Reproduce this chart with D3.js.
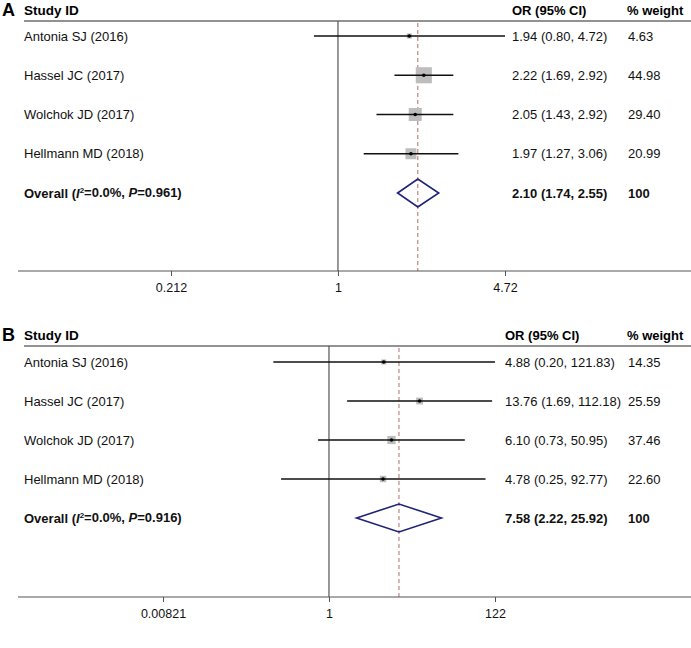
<!DOCTYPE html>
<html><head><meta charset="utf-8">
<script src="https://cdn.jsdelivr.net/npm/d3@7"></script>
<style>body{margin:0;background:#fff}svg{display:block}text{font-family:"Liberation Sans",Arial,sans-serif}</style>
</head><body><svg id="c" width="691" height="648"></svg>
<script>
const studies = ["Antonia SJ (2016)", "Hassel JC (2017)", "Wolchok JD (2017)", "Hellmann MD (2018)"];
const orA = [1.94, 2.22, 2.05, 1.97];
const lowA = [0.80, 1.69, 1.43, 1.27];
const highA = [4.72, 2.92, 2.92, 3.06];
const weightA = [4.63, 44.98, 29.40, 20.99];
const overallA = [2.10, 1.74, 2.55];
const statsA = ["0.0%", "0.961"];
const ticksA = [0.212, 1, 4.72];

const orB = [4.88, 13.76, 6.10, 4.78];
const lowB = [0.20, 1.69, 0.73, 0.25];
const highB = [121.83, 112.18, 50.95, 92.77];
const weightB = [14.35, 25.59, 37.46, 22.60];
const overallB = [7.58, 2.22, 25.92];
const statsB = ["0.0%", "0.916"];
const ticksB = [0.00821, 1, 122];

const svg = d3.select("#c");
const f2 = d3.format(".2f");

function panel(cfg) {
  const g = svg.append("g");
  const x = d3.scaleLog().domain([cfg.ticks[0], cfg.ticks[2]]).range(cfg.xr);
  const y = d3.scalePoint().domain(d3.range(5)).range(cfg.yr);
  const top = cfg.hy, bottom = cfg.ay;

  g.append("text").attr("x", 2).attr("y", top - 5).attr("font-size", 18).attr("font-weight", "bold").text(cfg.letter);
  g.append("text").attr("x", 24).attr("y", top - 6).attr("font-size", 13.5).attr("font-weight", "bold").text("Study ID");
  g.append("text").attr("x", cfg.orx).attr("y", top - 6).attr("font-size", 13).attr("font-weight", "bold").text("OR (95% CI)");
  g.append("text").attr("x", 627).attr("y", top - 6).attr("font-size", 13).attr("font-weight", "bold").text("% weight");
  g.append("line").attr("x1", 24).attr("x2", 691).attr("y1", top).attr("y2", top).attr("stroke", "#6e6e6e").attr("stroke-width", 1.3);

  g.append("line").attr("x1", x(1)).attr("x2", x(1)).attr("y1", top).attr("y2", bottom).attr("stroke", "#555").attr("stroke-width", 1.2);
  g.append("line").attr("x1", x(cfg.overall[0])).attr("x2", x(cfg.overall[0])).attr("y1", top + 2).attr("y2", bottom)
    .attr("stroke", "#b86a6a").attr("stroke-width", 1).attr("stroke-dasharray", "4,3");

  const axis = d3.axisBottom(x).tickValues(cfg.ticks).tickFormat(d => String(d)).tickSize(5).tickSizeOuter(0);
  const ag = g.append("g").attr("transform", `translate(0,${bottom})`).call(axis);
  ag.select(".domain").remove();
  ag.selectAll(".tick line").attr("stroke", "#555");
  ag.selectAll(".tick text").attr("font-size", 12.5).attr("fill", "#111").attr("dy", "1.05em").attr("font-family", "Liberation Sans, Arial, sans-serif");
  g.append("line").attr("x1", 18).attr("x2", 691).attr("y1", bottom).attr("y2", bottom).attr("stroke", "#555").attr("stroke-width", 1.2);

  studies.forEach((s, i) => {
    const yy = y(i);
    g.append("text").attr("x", 24).attr("y", yy).attr("dy", "0.35em").attr("font-size", 13).attr("fill", "#111").text(s);
    const side = cfg.boxK * Math.sqrt(cfg.w[i]);
    g.append("rect").attr("x", x(cfg.or[i]) - side / 2).attr("y", yy - side / 2).attr("width", side).attr("height", side).attr("fill", "#bdbdbd");
    g.append("line").attr("x1", x(cfg.lo[i])).attr("x2", x(cfg.hi[i])).attr("y1", yy).attr("y2", yy).attr("stroke", "#111").attr("stroke-width", 1.5);
    g.append("circle").attr("cx", x(cfg.or[i])).attr("cy", yy).attr("r", 1.8).attr("fill", "#000");
    g.append("text").attr("x", cfg.orx).attr("y", yy).attr("dy", "0.35em").attr("font-size", 13).attr("fill", "#111")
      .text(`${f2(cfg.or[i])} (${f2(cfg.lo[i])}, ${f2(cfg.hi[i])})`);
    g.append("text").attr("x", 628).attr("y", yy).attr("dy", "0.35em").attr("font-size", 13).attr("fill", "#111").text(f2(cfg.w[i]));
  });

  const yo = y(4);
  const t = g.append("text").attr("x", 24).attr("y", yo).attr("dy", "0.35em").attr("font-size", 13).attr("font-weight", "bold").attr("fill", "#111");
  t.append("tspan").text("Overall (");
  t.append("tspan").attr("font-style", "italic").text("I");
  t.append("tspan").attr("font-size", 8).attr("dy", "-0.6em").text("2");
  t.append("tspan").attr("dy", "0.35em").text(`=${cfg.stats[0]}, `);
  t.append("tspan").attr("font-style", "italic").text("P");
  t.append("tspan").text(`=${cfg.stats[1]})`);
  const [o, lo, hi] = cfg.overall;
  const dh = 14;
  g.append("path").attr("d", `M${x(lo)},${yo} L${x(o)},${yo - dh} L${x(hi)},${yo} L${x(o)},${yo + dh} Z`)
    .attr("fill", "none").attr("stroke", "#1f2478").attr("stroke-width", 1.6);
  g.append("text").attr("x", cfg.orx).attr("y", yo).attr("dy", "0.35em").attr("font-size", 13).attr("font-weight", "bold").attr("fill", "#111")
    .text(`${f2(o)} (${f2(lo)}, ${f2(hi)})`);
  g.append("text").attr("x", 628).attr("y", yo).attr("dy", "0.35em").attr("font-size", 13).attr("font-weight", "bold").attr("fill", "#111").text("100");
}

panel({letter: "A", ticks: ticksA, xr: [171, 505], yr: [36, 193], hy: 21, ay: 271, orx: 512,
  or: orA, lo: lowA, hi: highA, w: weightA, overall: overallA, stats: statsA, boxK: 2.4});
panel({letter: "B", ticks: ticksB, xr: [163, 495], yr: [362, 518], hy: 346, ay: 597, orx: 505,
  or: orB, lo: lowB, hi: highB, w: weightB, overall: overallB, stats: statsB, boxK: 1.35});
</script></body></html>
